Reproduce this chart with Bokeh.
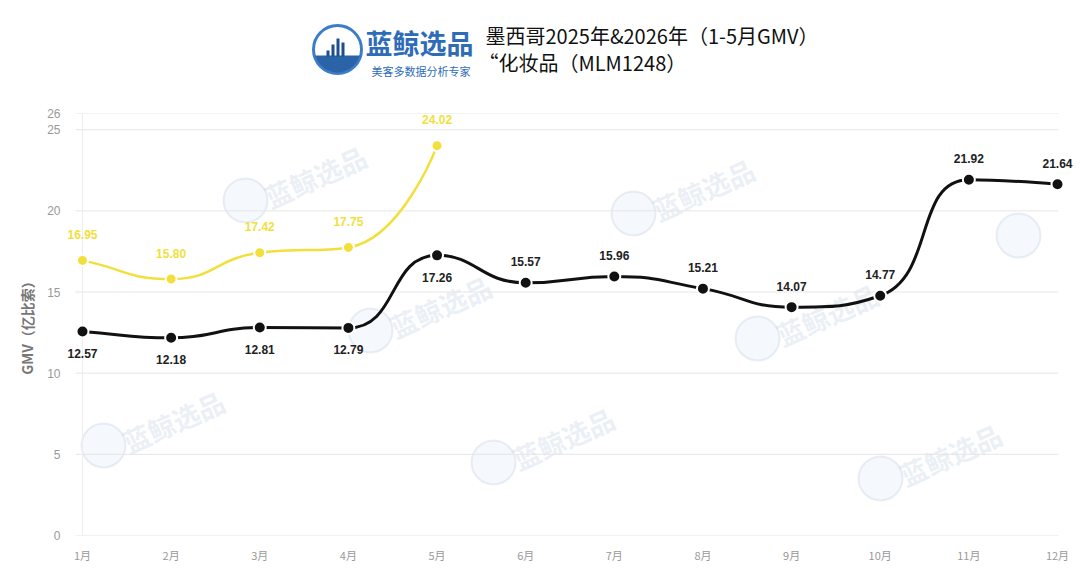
import math
from bokeh.plotting import figure
from bokeh.models import Range1d, FixedTicker
from bokeh.layouts import column
from bokeh.core.properties import value
from bokeh.embed import file_html
from bokeh.resources import INLINE

# ---------------- data ----------------
months = ["1月", "2月", "3月", "4月", "5月", "6月", "7月", "8月", "9月", "10月", "11月", "12月"]
gmv_2025 = [12.57, 12.18, 12.81, 12.79, 17.26, 15.57, 15.96, 15.21, 14.07, 14.77, 21.92, 21.64]
gmv_2026 = [16.95, 15.80, 17.42, 17.75, 24.02]
y_ticks = [0, 5, 10, 15, 20, 25, 26]
title_line1 = "墨西哥2025年&2026年（1-5月GMV）"
title_line2 = "“化妆品（MLM1248）"
brand_name = "蓝鲸选品"
brand_slogan = "美客多数据分析专家"
y_axis_title = "GMV（亿比索）"

CJK = value("Noto Sans CJK SC")
SANS = value("Liberation Sans")
BLACK = "#111111"
YELLOW = "#f1e03c"
BLUE = "#2e6cb8"
WM_TEXT = "#b9cae0"
WM_FILL = "#e3ebf5"

W, H_HEAD, H_CHART = 1080, 100, 479
FRAME_L = 63            # left edge of the plotting frame (page px)
FRAME_TOP, FRAME_BOT = 113, 535

# ---------------- header ----------------
# the column layout aligns the header frame with the chart frame (starts at FRAME_L),
# so the header's x range is expressed directly in page pixels
head = figure(width=W, height=H_HEAD, x_range=Range1d(FRAME_L, W),
              y_range=Range1d(H_HEAD, 0),
              output_backend="svg", toolbar_location=None, min_border=0,
              min_border_left=FRAME_L, min_border_right=0,
              x_axis_location=None, y_axis_location=None)
head.grid.visible = False
head.outline_line_color = None

cx, cy, r = 337, 49, 24
head.circle(x=[cx], y=[cy], radius=r, fill_color="white", line_color="#3b7dc8", line_width=3)
ang = [math.radians(a) for a in range(15, 166, 5)]
head.patch([cx + (r - 1) * math.cos(a) for a in ang], [cy + (r - 1) * math.sin(a) for a in ang],
           fill_color="#2a63a8", line_color=None)
head.quad(left=[326, 331, 336, 341], right=[329, 334, 339, 344],
          top=[50, 44, 38, 42], bottom=[56, 56, 56, 56], fill_color="#1f4e8c", line_color=None)

head.text(x=[365], y=[42], text=[brand_name], text_font=CJK, text_font_size="27px",
          text_font_style="bold", text_color=BLUE, text_baseline="middle")
head.text(x=[371], y=[70], text=[brand_slogan], text_font=CJK, text_font_size="11px",
          text_color=BLUE, text_baseline="middle")
head.text(x=[485], y=[35], text=[title_line1], text_font=CJK, text_font_size="20px",
          text_color=BLACK, text_baseline="middle")
head.text(x=[478], y=[62], text=[title_line2], text_font=CJK, text_font_size="20px",
          text_color=BLACK, text_baseline="middle")

# ---------------- chart ----------------
x_vals = list(range(1, len(months) + 1))
PX_X = (1057 - 82) / 11.0          # pixels per month
x_start = 1 - (82 - FRAME_L) / PX_X
x_end = 12 + (W - 1057) / PX_X
PX_Y = (FRAME_BOT - FRAME_TOP) / 26.0
grid_x0 = x_start + (75 - FRAME_L) / PX_X
grid_x1 = 12 + 1 / PX_X


def dx(px):
    return x_start + (px - FRAME_L) / PX_X


def dy(py):
    return (FRAME_BOT - py) / PX_Y


p = figure(width=W, height=H_CHART, x_range=Range1d(x_start, x_end), y_range=Range1d(0, 26),
           output_backend="svg", toolbar_location=None,
           min_border_left=FRAME_L, min_border_right=0,
           min_border_top=FRAME_TOP - H_HEAD, min_border_bottom=H_HEAD + H_CHART - FRAME_BOT)
p.outline_line_color = None
p.grid.visible = False

# faint watermarks (decoration)
wm_circles = [(245, 200), (633, 213), (370, 330), (757, 338), (103, 445), (493, 462), (880, 478)]
p.scatter(x=[dx(a) for a, b in wm_circles], y=[dy(b) for a, b in wm_circles], size=44,
          fill_color=WM_FILL, fill_alpha=0.35, line_color=WM_TEXT, line_alpha=0.3, line_width=2)
p.scatter(x=[dx(1018)], y=[dy(235)], size=44,
          fill_color=WM_FILL, fill_alpha=0.35, line_color=WM_TEXT, line_alpha=0.3, line_width=2)
p.text(x=[dx(a + 70) for a, b in wm_circles], y=[dy(b - 24) for a, b in wm_circles],
       text=[brand_name] * len(wm_circles), angle=0.42, text_font=CJK, text_font_size="27px",
       text_font_style="bold", text_color=WM_TEXT, text_alpha=0.3,
       text_align="center", text_baseline="middle")

# grid lines
p.segment(x0=[grid_x0] * len(y_ticks), y0=y_ticks, x1=[grid_x1] * len(y_ticks), y1=y_ticks,
          line_color="#e6e6e6", line_width=1)
p.segment(x0=[x_vals[0]], y0=[y_ticks[0]], x1=[x_vals[0]], y1=[y_ticks[-1]],
          line_color="#eeeeee", line_width=1)

# axes
p.yaxis.ticker = FixedTicker(ticks=y_ticks)
p.yaxis.axis_line_color = None
p.yaxis.major_tick_line_color = None
p.yaxis.minor_tick_line_color = None
p.yaxis.major_label_text_color = "#999999"
p.yaxis.major_label_text_font = "Liberation Sans"
p.yaxis.major_label_text_font_size = "12px"
p.yaxis.major_label_standoff = -3
p.yaxis.axis_label = y_axis_title
p.yaxis.axis_label_text_font = "Noto Sans CJK SC"
p.yaxis.axis_label_text_font_size = "14px"
p.yaxis.axis_label_text_font_style = "bold"
p.yaxis.axis_label_text_color = "#777777"
p.yaxis.axis_label_standoff = 7

p.xaxis.ticker = FixedTicker(ticks=x_vals)
p.xaxis.major_label_overrides = {x: m for x, m in zip(x_vals, months)}
p.xaxis.axis_line_color = None
p.xaxis.major_tick_line_color = None
p.xaxis.minor_tick_line_color = None
p.xaxis.major_label_text_color = "#999999"
p.xaxis.major_label_text_font = "Noto Sans CJK SC"
p.xaxis.major_label_text_font_size = "11px"
p.xaxis.major_label_standoff = 5


def smooth_segments(xs, ys, smooth=0.5):
    """ECharts-style (clamped) smooth curve: cubic bezier segments through the data points."""
    P = [(x * PX_X, -y * PX_Y) for x, y in zip(xs, ys)]
    n = len(P)
    cin = [None] * n
    cout = [None] * n

    def clamp(v, a, b):
        return min(max(v, min(a, b)), max(a, b))

    for i in range(n):
        x, y = P[i]
        if i == 0 or i == n - 1:
            cin[i] = (x, y)
            cout[i] = (x, y)
            continue
        px_, py_ = P[i - 1]
        nx, ny = P[i + 1]
        vx, vy = nx - px_, ny - py_
        lp = math.hypot(x - px_, y - py_)
        ln = math.hypot(nx - x, ny - y)
        ratio = ln / (lp + ln)
        ncx = clamp(x + vx * smooth * ratio, x, nx)
        ncy = clamp(y + vy * smooth * ratio, y, ny)
        vx, vy = ncx - x, ncy - y
        c1x = clamp(x - vx * lp / ln, px_, x)
        c1y = clamp(y - vy * lp / ln, py_, y)
        vx, vy = x - c1x, y - c1y
        ncx = x + vx * ln / lp
        ncy = y + vy * ln / lp
        cin[i] = (c1x, c1y)
        cout[i] = (ncx, ncy)
    if n > 1:
        x, y = P[0]
        nx, ny = P[1]
        cout[0] = (x + (nx - x) * smooth, y + (ny - y) * smooth)
    seg = dict(x0=[], y0=[], x1=[], y1=[], cx0=[], cy0=[], cx1=[], cy1=[])
    for i in range(n - 1):
        seg["x0"].append(xs[i]); seg["y0"].append(ys[i])
        seg["x1"].append(xs[i + 1]); seg["y1"].append(ys[i + 1])
        seg["cx0"].append(cout[i][0] / PX_X); seg["cy0"].append(-cout[i][1] / PX_Y)
        seg["cx1"].append(cin[i + 1][0] / PX_X); seg["cy1"].append(-cin[i + 1][1] / PX_Y)
    return seg


x25 = x_vals
x26 = x_vals[:len(gmv_2026)]

p.bezier(line_color=BLACK, line_width=3, **smooth_segments(x25, gmv_2025))
p.bezier(line_color=YELLOW, line_width=2.5, **smooth_segments(x26, gmv_2026))

p.scatter(x=x25, y=gmv_2025, size=12, fill_color=BLACK, line_color="white", line_width=2)
p.scatter(x=x26, y=gmv_2026, size=11, fill_color=YELLOW, line_color="white", line_width=2)

# data labels
lab25 = ["%.2f" % v for v in gmv_2025]
lab26 = ["%.2f" % v for v in gmv_2026]
k = 5
p.text(x=x25[:k], y=gmv_2025[:k], text=lab25[:k], text_font=SANS, text_font_size="12px",
       text_font_style="bold", text_color="#222222", text_align="center",
       text_baseline="middle", y_offset=22)
p.text(x=x25[k:], y=gmv_2025[k:], text=lab25[k:], text_font=SANS, text_font_size="12px",
       text_font_style="bold", text_color="#222222", text_align="center",
       text_baseline="middle", y_offset=-21)
p.text(x=x26, y=gmv_2026, text=lab26, text_font=SANS, text_font_size="12px",
       text_font_style="bold", text_color=YELLOW, text_align="center",
       text_baseline="middle", y_offset=-26)

layout = column(head, p, spacing=0)
open("out.html", "w").write(file_html(layout, INLINE))
